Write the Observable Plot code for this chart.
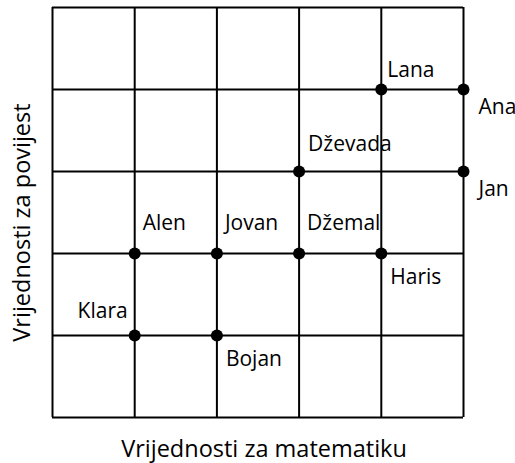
<!DOCTYPE html>
<html>
<head>
<meta charset="utf-8">
<script src="https://cdn.jsdelivr.net/npm/d3@7"></script>
<script src="https://cdn.jsdelivr.net/npm/@observablehq/plot@0.6"></script>
<style>
  html, body { margin: 0; padding: 0; background: #fff; }
  svg { display: block; }
</style>
</head>
<body>
<div id="chart"></div>
<script>
const names = ["Klara", "Bojan", "Alen", "Jovan", "Džemal", "Haris", "Dževada", "Jan", "Lana", "Ana"];
const math = [1, 2, 1, 2, 3, 4, 3, 5, 4, 5];
const history = [1, 1, 2, 2, 2, 2, 3, 3, 4, 4];
const placement = ["left", "below", "above", "above", "above", "below", "aboveLow", "right", "near", "right"];
const gridTicks = [0, 1, 2, 3, 4, 5];
const xTitle = "Vrijednosti za matematiku";
const yTitle = "Vrijednosti za povijest";

const data = names.map((n, i) => ({name: n, x: math[i], y: history[i], place: placement[i]}));

const offsets = {
  above: {dx: 8, dy: -30.5, textAnchor: "start"},
  aboveLow: {dx: 9, dy: -27.5, textAnchor: "start"},
  near: {dx: 6, dy: -19, textAnchor: "start"},
  below: {dx: 9, dy: 24, textAnchor: "start"},
  right: {dx: 15, dy: 18, textAnchor: "start"},
  left: {dx: -7, dy: -24, textAnchor: "end"}
};

const font = "'Open Sans', sans-serif";

const labelMarks = Object.entries(offsets).map(([k, o]) =>
  Plot.text(data.filter(d => d.place === k), {
    x: "x", y: "y", text: "name",
    dx: o.dx, dy: o.dy, textAnchor: o.textAnchor,
    fontSize: 21, fill: "black"
  })
);

const chart = Plot.plot({
  width: 515,
  height: 463,
  marginLeft: 52,
  marginRight: 52,
  marginTop: 7,
  marginBottom: 46,
  style: {fontFamily: font, background: "white"},
  x: {domain: [0, 5], axis: null},
  y: {domain: [0, 5], axis: null},
  marks: [
    Plot.ruleX(gridTicks, {stroke: "black", strokeWidth: 2}),
    Plot.ruleY(gridTicks, {stroke: "black", strokeWidth: 2}),
    Plot.dot(data, {x: "x", y: "y", r: 6, fill: "black", stroke: "none"}),
    ...labelMarks,
    Plot.text([xTitle], {frameAnchor: "bottom", textAnchor: "middle", lineAnchor: "middle", dx: 6, dy: 32, fontSize: 23.5, fill: "black"}),
    Plot.text([yTitle], {frameAnchor: "left", textAnchor: "middle", lineAnchor: "middle", dx: -30, dy: 10, rotate: -90, fontSize: 23.5, fill: "black"})
  ]
});
document.getElementById("chart").appendChild(chart);
</script>
</body>
</html>
